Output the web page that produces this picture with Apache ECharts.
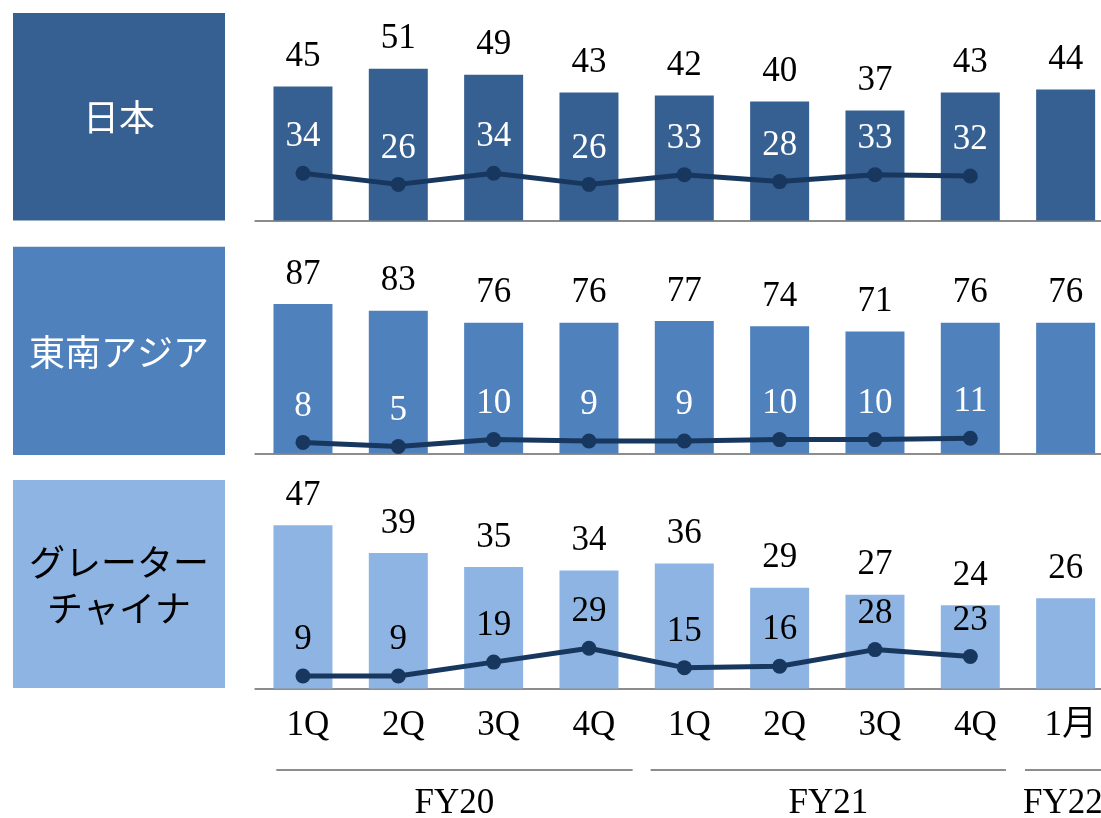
<!DOCTYPE html>
<html>
<head>
<meta charset="utf-8">
<script src="https://cdn.jsdelivr.net/npm/echarts@6/dist/echarts.min.js"></script>
<style>
html,body{margin:0;padding:0;background:#fff;overflow:hidden;}
#chart{width:1101px;height:818px;}
</style>
</head>
<body>
<div id="chart"></div>
<script>
// ---- data ----
const categories = ['1Q','2Q','3Q','4Q','1Q','2Q','3Q','4Q','1月'];
const fyGroups = ['FY20','FY21','FY22'];
const fyGroupRanges = [[0,3],[4,7],[8,8]];
const regionNames = ['日本','東南アジア','グレーター\nチャイナ'];
const barJapan = [45,51,49,43,42,40,37,43,44];
const barSEA   = [87,83,76,76,77,74,71,76,76];
const barGC    = [47,39,35,34,36,29,27,24,26];
const lineJapan = [34,26,34,26,33,28,33,32,null];
const lineSEA   = [8,5,10,9,9,10,10,11,null];
const lineGC    = [9,9,19,29,15,16,28,23,null];

// ---- style / layout ----
const NUM_FONT = "'Liberation Serif', 'Noto Sans CJK JP', serif";
const panelColors = ['#376092','#4F81BD','#8EB4E3'];
const regionTextColors = ['#ffffff','#ffffff','#000000'];
const lineLabelColors = ['#ffffff','#ffffff','#000000'];
const lineColor = '#17375E';
const gridBottoms = [220.5, 453.5, 688.5];
const gridH = 200;
const barMax = [67.2, 116.3, 57.6];
const lineMax = 144;
const bars = [barJapan, barSEA, barGC];
const lines = [lineJapan, lineSEA, lineGC];
const boxes = [[13,13,212,207.5],[13,246.7,212,208.3],[13,480,212,208]];
const groupLineInsets = [[21,4],[14,12],[7,0]];

const chart = echarts.init(document.getElementById('chart'), null, {renderer:'canvas'});

const grids = [], xAxes = [], yAxes = [], series = [];
for (let i = 0; i < 3; i++) {
  grids.push({left: 255.3, width: 858, top: gridBottoms[i] - gridH, height: gridH,
    containLabel: false, outerBoundsMode: 'none'});
  xAxes.push({
    type: 'category', gridIndex: i, data: categories, boundaryGap: true,
    axisLine: {show: true, lineStyle: {color: '#8c8c8c', width: 2}},
    axisTick: {show: false},
    axisLabel: {show: i === 2, color: '#000', fontSize: 35, fontFamily: NUM_FONT, margin: 20, interval: 0,
      hideOverlap: false, padding: [0, 0, 0, 10]}
  });
  yAxes.push({type: 'value', gridIndex: i, min: 0, max: barMax[i], show: false, splitLine: {show: false}});
  yAxes.push({type: 'value', gridIndex: i, min: 0, max: lineMax, show: false, splitLine: {show: false}});
  series.push({
    type: 'bar', xAxisIndex: i, yAxisIndex: 2*i, data: bars[i], barWidth: 59,
    itemStyle: {color: panelColors[i]},
    label: {show: true, position: 'top', distance: 12, color: '#000', fontSize: 35, fontFamily: NUM_FONT},
    z: 2
  });
  series.push({
    type: 'line', xAxisIndex: i, yAxisIndex: 2*i+1, data: lines[i],
    symbol: 'circle', symbolSize: 15, connectNulls: false,
    lineStyle: {color: lineColor, width: 5},
    itemStyle: {color: lineColor},
    label: {show: true, position: 'top', distance: 11, color: lineLabelColors[i], fontSize: 35, fontFamily: NUM_FONT},
    z: 3
  });
}

const baseGraphics = [];
for (let i = 0; i < 3; i++) {
  const b = boxes[i];
  baseGraphics.push({type: 'rect', shape: {x: b[0], y: b[1], width: b[2], height: b[3]}, style: {fill: panelColors[i]}, z: 1});
  baseGraphics.push({type: 'text', x: b[0] + b[2]/2, y: b[1] + b[3]/2 + 1,
    style: {text: regionNames[i], fill: regionTextColors[i], fontSize: 36, lineHeight: 46,
      fontFamily: "'Noto Sans CJK JP', sans-serif", align: 'center', verticalAlign: 'middle'}, z: 2});
}

chart.setOption({
  animation: false,
  backgroundColor: '#ffffff',
  grid: grids, xAxis: xAxes, yAxis: yAxes, series: series,
  graphic: baseGraphics
});

// FY group lines and labels, positioned through the category scale
const extra = [];
const p0 = chart.convertToPixel({xAxisIndex: 2}, 0);
const p1 = chart.convertToPixel({xAxisIndex: 2}, 1);
const band = p1 - p0;
fyGroupRanges.forEach((r, gi) => {
  const L = chart.convertToPixel({xAxisIndex: 2}, r[0]) - band/2;
  const R = chart.convertToPixel({xAxisIndex: 2}, r[1]) + band/2;
  const single = r[0] === r[1];
  const x1 = L + groupLineInsets[gi][0], x2 = R - groupLineInsets[gi][1];
  extra.push({type: 'line', shape: {x1: x1, y1: 770, x2: x2, y2: 770}, style: {stroke: '#8c8c8c', lineWidth: 2}});
  extra.push({type: 'text', x: single ? x1 - 2 : (x1 + x2)/2, y: 804,
    style: {text: fyGroups[gi], fill: '#000', fontSize: 35, fontFamily: NUM_FONT,
      align: single ? 'left' : 'center', verticalAlign: 'middle'}});
});
chart.setOption({graphic: baseGraphics.concat(extra)});
</script>
</body>
</html>
